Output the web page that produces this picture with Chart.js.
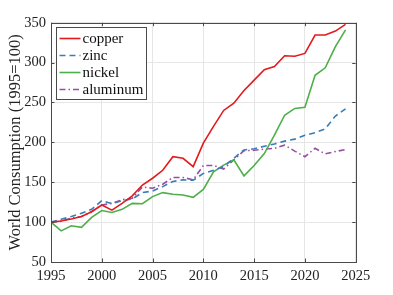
<!DOCTYPE html>
<html>
<head>
<meta charset="utf-8">
<script src="https://cdn.jsdelivr.net/npm/chart.js@4.4.0/dist/chart.umd.min.js"></script>
<style>
  html, body { margin: 0; padding: 0; background: #fff; }
  #wrap { width: 393px; height: 295px; }
</style>
</head>
<body>
<div id="wrap"><canvas id="grafico"></canvas></div>
<script>
// dados (1995 = 100)
const years = [1995, 1996, 1997, 1998, 1999, 2000, 2001, 2002, 2003, 2004,
               2005, 2006, 2007, 2008, 2009, 2010, 2011, 2012, 2013, 2014,
               2015, 2016, 2017, 2018, 2019, 2020, 2021, 2022, 2023, 2024];
const copper = [100, 101.5, 104, 107, 113, 121.5, 115, 123.5, 133, 146.5,
                155, 165, 182, 180, 169.5, 199, 220, 240, 249, 265,
                278, 291, 295, 308.5, 308, 311.5, 334.5, 334.5, 339.5, 348];
const zinc = [100, 103.5, 107, 111, 116, 127, 123, 127, 129, 137,
              139, 144.5, 151, 153, 152.5, 161, 165, 169.5, 180, 190.5,
              192, 195, 198, 201.5, 204, 209, 212, 217, 233, 242];
const nickel = [100, 89, 95.5, 93.5, 106, 114.5, 112, 116, 123.5, 123,
                132, 137, 135, 134, 131, 141, 163, 171.5, 178, 158,
                171, 186, 209, 234, 242.5, 244, 284, 293.5, 320, 341];
const aluminum = [100, 101, 105, 107, 113, 121.5, 123.5, 128, 130, 144,
                  142.5, 147.5, 156, 156, 153, 171, 171, 166.5, 178, 189.5,
                  190, 191.5, 192.5, 196.5, 189, 182, 192.5, 185.5, 188.5, 191];
const seriesNames = ['copper', 'zinc', 'nickel', 'aluminum'];
const xTicks = [1995, 2000, 2005, 2010, 2015, 2020, 2025];
const yTicks = [50, 100, 150, 200, 250, 300, 350];

const serif = '"Liberation Serif", "Times New Roman", serif';
const frameColor = '#4a4a4a';

function pontos(valores) {
    return years.map((ano, i) => ({ x: ano, y: valores[i] }));
}

// moldura com marcas para dentro nos quatro lados
const moldura = {
    id: 'moldura',
    afterDatasetsDraw(chart) {
        const { ctx, chartArea: a, scales } = chart;
        const t = 3.5;
        ctx.save();
        ctx.strokeStyle = frameColor;
        ctx.lineWidth = 1;
        ctx.setLineDash([]);
        ctx.beginPath();
        xTicks.forEach(v => {
            const px = Math.round(scales.x.getPixelForValue(v)) + 0.5;
            ctx.moveTo(px, a.top); ctx.lineTo(px, a.top + t);
            ctx.moveTo(px, a.bottom); ctx.lineTo(px, a.bottom - t);
        });
        yTicks.forEach(v => {
            const py = Math.round(scales.y.getPixelForValue(v)) + 0.5;
            ctx.moveTo(a.left, py); ctx.lineTo(a.left + t, py);
            ctx.moveTo(a.right, py); ctx.lineTo(a.right - t, py);
        });
        ctx.stroke();
        ctx.strokeRect(Math.round(a.left) + 0.5, Math.round(a.top) + 0.5,
                       Math.round(a.right - a.left), Math.round(a.bottom - a.top));
        ctx.restore();
    }
};

// legenda com caixa no canto superior esquerdo
const legenda = {
    id: 'legenda',
    afterDatasetsDraw(chart) {
        const { ctx, chartArea: a } = chart;
        const x0 = Math.round(a.left + 5) + 0.5;
        const y0 = Math.round(a.top + 4.5) + 0.5;
        const w = 90, h = 72;
        ctx.save();
        ctx.fillStyle = '#fff';
        ctx.fillRect(x0, y0, w, h);
        ctx.strokeStyle = frameColor;
        ctx.lineWidth = 1;
        ctx.strokeRect(x0, y0, w, h);
        chart.data.datasets.forEach((ds, i) => {
            const y = y0 + 11 + i * 17;
            ctx.strokeStyle = ds.borderColor;
            ctx.lineWidth = ds.borderWidth;
            ctx.setLineDash(ds.borderDash || []);
            ctx.beginPath();
            ctx.moveTo(x0 + 3, y);
            ctx.lineTo(x0 + 24, y);
            ctx.stroke();
            ctx.setLineDash([]);
            ctx.fillStyle = '#111';
            ctx.font = '15px ' + serif;
            ctx.textBaseline = 'middle';
            ctx.textAlign = 'left';
            ctx.fillText(ds.label, x0 + 26, y + 0.5);
        });
        ctx.restore();
    }
};

const cores = ['#e41a1c', '#377eb8', '#4daf4a', '#984ea3'];
const tracos = [[], [6, 4], [], [6, 3, 1.5, 3]];
const valores = [copper, zinc, nickel, aluminum];

Chart.defaults.color = '#222';
Chart.defaults.font.family = serif;

new Chart(document.getElementById('grafico').getContext('2d'), {
    type: 'line',
    data: {
        datasets: seriesNames.map((nome, i) => ({
            label: nome,
            data: pontos(valores[i]),
            borderColor: cores[i],
            backgroundColor: cores[i],
            borderDash: tracos[i],
            borderWidth: 1.6,
            pointRadius: 0,
            tension: 0,
            fill: false
        }))
    },
    options: {
        responsive: true,
        maintainAspectRatio: false,
        animation: false,
        layout: { padding: { left: 0, right: 37.3, top: 22.7, bottom: 0 } },
        plugins: {
            legend: { display: false },
            tooltip: { enabled: false }
        },
        scales: {
            x: {
                type: 'linear',
                min: 1995,
                max: 2025,
                afterFit: s => { s.height = 33; },
                afterBuildTicks: s => { s.ticks = xTicks.map(v => ({ value: v })); },
                ticks: { font: { size: 14.5 }, padding: 5.5, maxRotation: 0, callback: v => String(v) },
                grid: { color: '#e6e6e6', drawTicks: false },
                border: { display: false }
            },
            y: {
                min: 50,
                max: 350,
                afterFit: s => { s.width = 51; },
                afterBuildTicks: s => { s.ticks = yTicks.map(v => ({ value: v })); },
                ticks: { font: { size: 14.5 }, padding: 5 },
                grid: { color: '#e6e6e6', drawTicks: false },
                border: { display: false },
                title: {
                    display: true,
                    text: 'World Consumption (1995=100)',
                    font: { size: 16.5 },
                    padding: { top: 5.5, bottom: 0 }
                }
            }
        }
    },
    plugins: [moldura, legenda]
});
</script>
</body>
</html>
